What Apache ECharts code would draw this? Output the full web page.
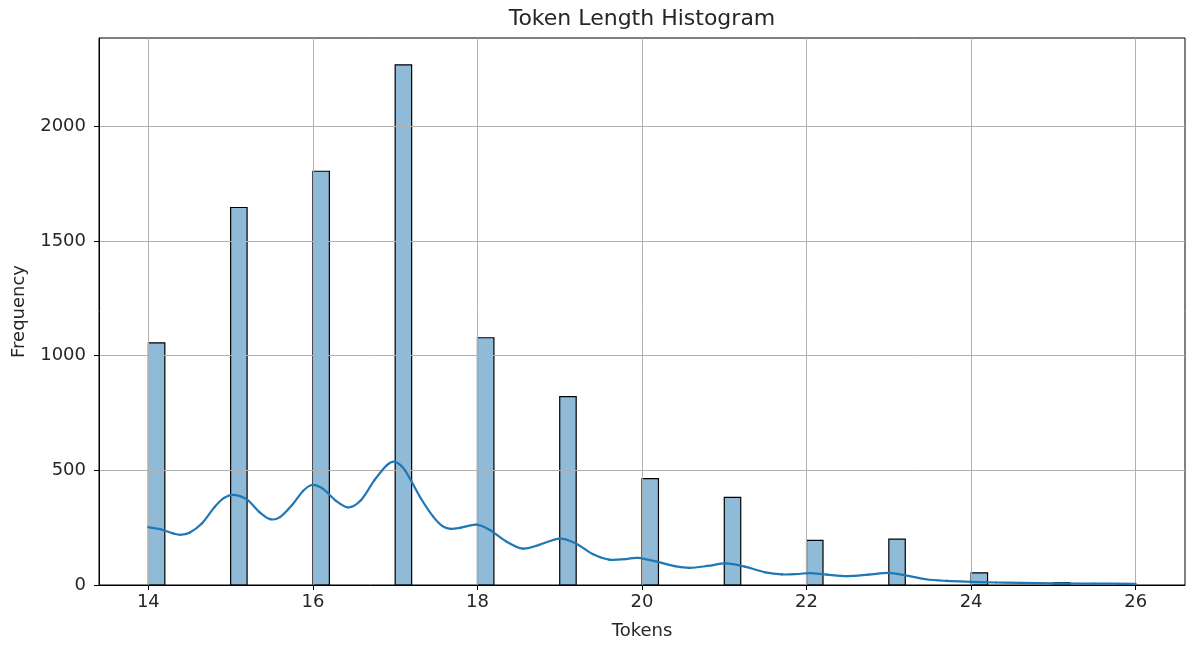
<!DOCTYPE html>
<html>
<head>
<meta charset="utf-8">
<script src="https://cdn.jsdelivr.net/npm/echarts@6/dist/echarts.min.js"></script>
<style>
  html, body { margin: 0; padding: 0; background: #fff; }
  #chart { width: 1186px; height: 645px; }
</style>
</head>
<body>
<div id="chart"></div>
<script>
// ---- Data ----
const binStarts = [14, 15, 16, 17, 18, 19, 20, 21, 22, 23, 24, 25, 25.8];
const binCounts = [1056, 1646, 1804, 2268, 1078, 821, 464, 382, 195, 200, 53, 10, 2];
const binWidth = 0.2;

const kdeX = [14.0, 14.15, 14.3, 14.39, 14.5, 14.65, 14.8, 14.92, 15.04, 15.2, 15.35, 15.48, 15.6, 15.75, 15.88, 15.99,
  16.12, 16.28, 16.43, 16.58, 16.75, 16.9, 17.0, 17.12, 17.3, 17.46, 17.57, 17.67, 17.8, 17.99, 18.15, 18.35, 18.55,
  18.75, 19.0, 19.2, 19.4, 19.6, 19.8, 19.95, 20.2, 20.4, 20.58, 20.8, 21.02, 21.25, 21.5, 21.7, 21.9, 22.05, 22.25,
  22.5, 22.75, 23.0, 23.2, 23.45, 23.7, 24.0, 24.3, 24.6, 25.0, 25.5, 26.0];
const kdeY = [252, 243, 225, 219, 228, 268, 338, 380, 393, 372, 318, 287, 296, 350, 410, 436,
  420, 367, 338, 368, 458, 523, 537, 500, 385, 299, 258, 245, 250, 263, 240, 190, 159,
  175, 202, 180, 135, 111, 113, 118, 100, 82, 75, 83, 94, 80, 55, 46, 48, 52, 45,
  39, 45, 53, 42, 25, 18, 14, 11, 9, 7, 6, 5];

const xTicks = [14, 16, 18, 20, 22, 24, 26];
const yTicks = [0, 500, 1000, 1500, 2000];
const xLimits = [13.4, 26.6];
const yLimits = [0, 2385];

const titleText = 'Token Length Histogram';
const xName = 'Tokens';
const yName = 'Frequency';

// ---- Chart ----
const chart = echarts.init(document.getElementById('chart'), null, { renderer: 'canvas' });
const FONT = 'DejaVu Sans';
const TXT = '#262626';

const barData = binStarts.map((s, i) => [s, binCounts[i]]);
const kdeData = kdeX.map((x, i) => [x, kdeY[i]]);

// KDE drawn as Catmull-Rom segments between consecutive data points (coords from the axes)
function renderKdeSegment(params, api) {
  const i = params.dataIndex;
  const n = kdeData.length;
  if (i >= n - 1) return null;
  const P = k => api.coord(kdeData[Math.max(0, Math.min(n - 1, k))]);
  const p0 = P(i - 1), p1 = P(i), p2 = P(i + 1), p3 = P(i + 2);
  const t = 1 / 6;
  return {
    type: 'bezierCurve',
    shape: {
      x1: p1[0], y1: p1[1], x2: p2[0], y2: p2[1],
      cpx1: p1[0] + (p2[0] - p0[0]) * t, cpy1: p1[1] + (p2[1] - p0[1]) * t,
      cpx2: p2[0] - (p3[0] - p1[0]) * t, cpy2: p2[1] - (p3[1] - p1[1]) * t
    },
    style: { stroke: '#1f77b4', lineWidth: 2.2, fill: null, lineCap: 'round' }
  };
}

chart.setOption({
  animation: false,
  backgroundColor: '#ffffff',
  title: {
    text: titleText,
    left: 642,
    top: 8,
    padding: 0,
    textAlign: 'center',
    textStyle: { fontFamily: FONT, fontSize: 22, fontWeight: 'normal', color: TXT }
  },
  grid: {
    left: 99, right: 1, top: 38, bottom: 56,
    show: true, borderColor: '#000', borderWidth: 1, backgroundColor: 'transparent'
  },
  xAxis: {
    type: 'value',
    min: xLimits[0], max: xLimits[1],
    z: 2,
    name: xName,
    nameLocation: 'middle',
    nameGap: 37,
    nameTextStyle: { fontFamily: FONT, fontSize: 18, color: TXT },
    axisLine: { show: true, onZero: false, lineStyle: { color: '#000', width: 1 } },
    axisTick: { show: true, length: 5, customValues: xTicks, lineStyle: { color: '#000', width: 1 } },
    axisLabel: { customValues: xTicks, margin: 8, fontFamily: FONT, fontSize: 18, color: TXT,
      formatter: v => String(v) },
    splitLine: { show: true, lineStyle: { color: '#b0b0b0', width: 1 } }
  },
  yAxis: {
    type: 'value',
    min: yLimits[0], max: yLimits[1],
    z: 2,
    name: yName,
    nameLocation: 'middle',
    nameGap: 71,
    nameTextStyle: { fontFamily: FONT, fontSize: 18, color: TXT },
    axisLine: { show: true, lineStyle: { color: '#000', width: 1 } },
    axisTick: { show: true, length: 5, customValues: yTicks, lineStyle: { color: '#000', width: 1 } },
    axisLabel: { customValues: yTicks, margin: 13, fontFamily: FONT, fontSize: 18, color: TXT,
      formatter: v => String(v) },
    splitLine: { show: true, lineStyle: { color: '#b0b0b0', width: 1 } }
  },
  series: [
    {
      type: 'custom',
      name: 'hist',
      z: 1,
      data: barData,
      encode: { x: 0, y: 1 },
      renderItem: function (params, api) {
        const x0 = api.value(0);
        const y = api.value(1);
        const p1 = api.coord([x0, y]);
        const p0 = api.coord([x0 + binWidth, 0]);
        return {
          type: 'rect',
          shape: { x: p1[0], y: p1[1], width: p0[0] - p1[0], height: p0[1] - p1[1] },
          style: { fill: 'rgba(31,119,180,0.5)', stroke: '#000', lineWidth: 1.2 }
        };
      }
    },
    {
      type: 'custom',
      name: 'kde',
      z: 3,
      data: kdeData,
      encode: { x: 0, y: 1 },
      renderItem: renderKdeSegment
    }
  ]
});
</script>
</body>
</html>
